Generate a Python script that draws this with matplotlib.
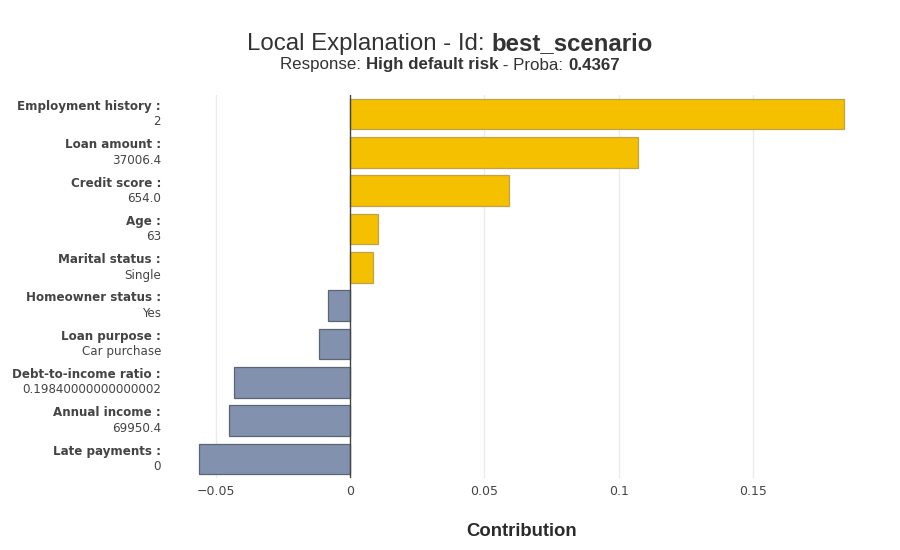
import matplotlib
matplotlib.use("Agg")
import matplotlib.pyplot as plt
import matplotlib.transforms as mtransforms

features = ["Employment history", "Loan amount", "Credit score", "Age", "Marital status",
            "Homeowner status", "Loan purpose", "Debt-to-income ratio", "Annual income",
            "Late payments"]
values = ["2", "37006.4", "654.0", "63", "Single", "Yes", "Car purchase",
          "0.19840000000000002", "69950.4", "0"]
contrib = [0.1839, 0.1072, 0.0592, 0.0104, 0.0086, -0.0081, -0.0115, -0.0432, -0.0450, -0.0563]
ticks = [-0.05, 0, 0.05, 0.1, 0.15]
tick_labels = ["\u22120.05", "0", "0.05", "0.1", "0.15"]

POS = "#f4c000"
POS_EDGE = "#bfa24a"
NEG = "#8291ad"
NEG_EDGE = "#5d6475"

W, H = 900, 550
fig = plt.figure(figsize=(9, 5.5), dpi=100)
ax = fig.add_axes([163 / W, (H - 478) / H, 717 / W, 383 / H])

ypos = list(range(len(features)))
colors = [POS if c > 0 else NEG for c in contrib]
edges = [POS_EDGE if c > 0 else NEG_EDGE for c in contrib]
ax.barh(ypos, contrib, height=0.8, color=colors, edgecolor=edges, linewidth=0.9, zorder=3)

span = max(contrib) - min(contrib)
pad = span / 18
ax.set_xlim(min(contrib) - pad, max(contrib) + pad)
ax.set_ylim(len(features) - 0.5, -0.5)

for t in ticks:
    if t != 0:
        ax.axvline(t, color="#ebebeb", lw=1, zorder=1)
ax.axvline(0, color="#444444", lw=1, zorder=4)

ax.set_xticks(ticks)
ax.set_xticklabels(tick_labels, fontsize=9, color="#444444", family="DejaVu Sans")
ax.tick_params(axis="x", length=0, pad=5)
ax.set_yticks([])
for s in ax.spines.values():
    s.set_visible(False)

# feature labels, bold name above the value
trans = mtransforms.blended_transform_factory(fig.transFigure, ax.transData)
for i, (f, v) in enumerate(zip(features, values)):
    ax.text(161 / W, i - 0.2, f + " :", transform=trans, ha="right", va="center",
            fontsize=8.6, fontweight="bold", color="#444444", family="DejaVu Sans")
    ax.text(161 / W, i + 0.2, v, transform=trans, ha="right", va="center",
            fontsize=8.6, color="#444444", family="DejaVu Sans")

fig.text(521.5 / W, 1 - 532 / H, "Contribution", ha="center", va="center",
         fontsize=13.3, fontweight="bold", color="#2a2a2a", family="Liberation Sans")


def centered_line(parts, y_px, size):
    renderer = fig.canvas.get_renderer()
    texts = []
    for s, bold in parts:
        t = fig.text(0, 1 - y_px / H, s, fontsize=size, family="Liberation Sans",
                     fontweight="bold" if bold else "normal", color="#333333",
                     va="center", ha="left")
        texts.append(t)
    widths = [t.get_window_extent(renderer).width for t in texts]
    x = (W / 2 - sum(widths) / 2)
    for t, w in zip(texts, widths):
        t.set_x(x / W)
        x += w


centered_line([("Local Explanation - Id: ", False), ("best_scenario", True)], 44, 17.3)
centered_line([("Response: ", False), ("High default risk", True),
               (" - Proba: ", False), ("0.4367", True)], 65, 12.2)

fig.savefig("out.png", dpi=100)
